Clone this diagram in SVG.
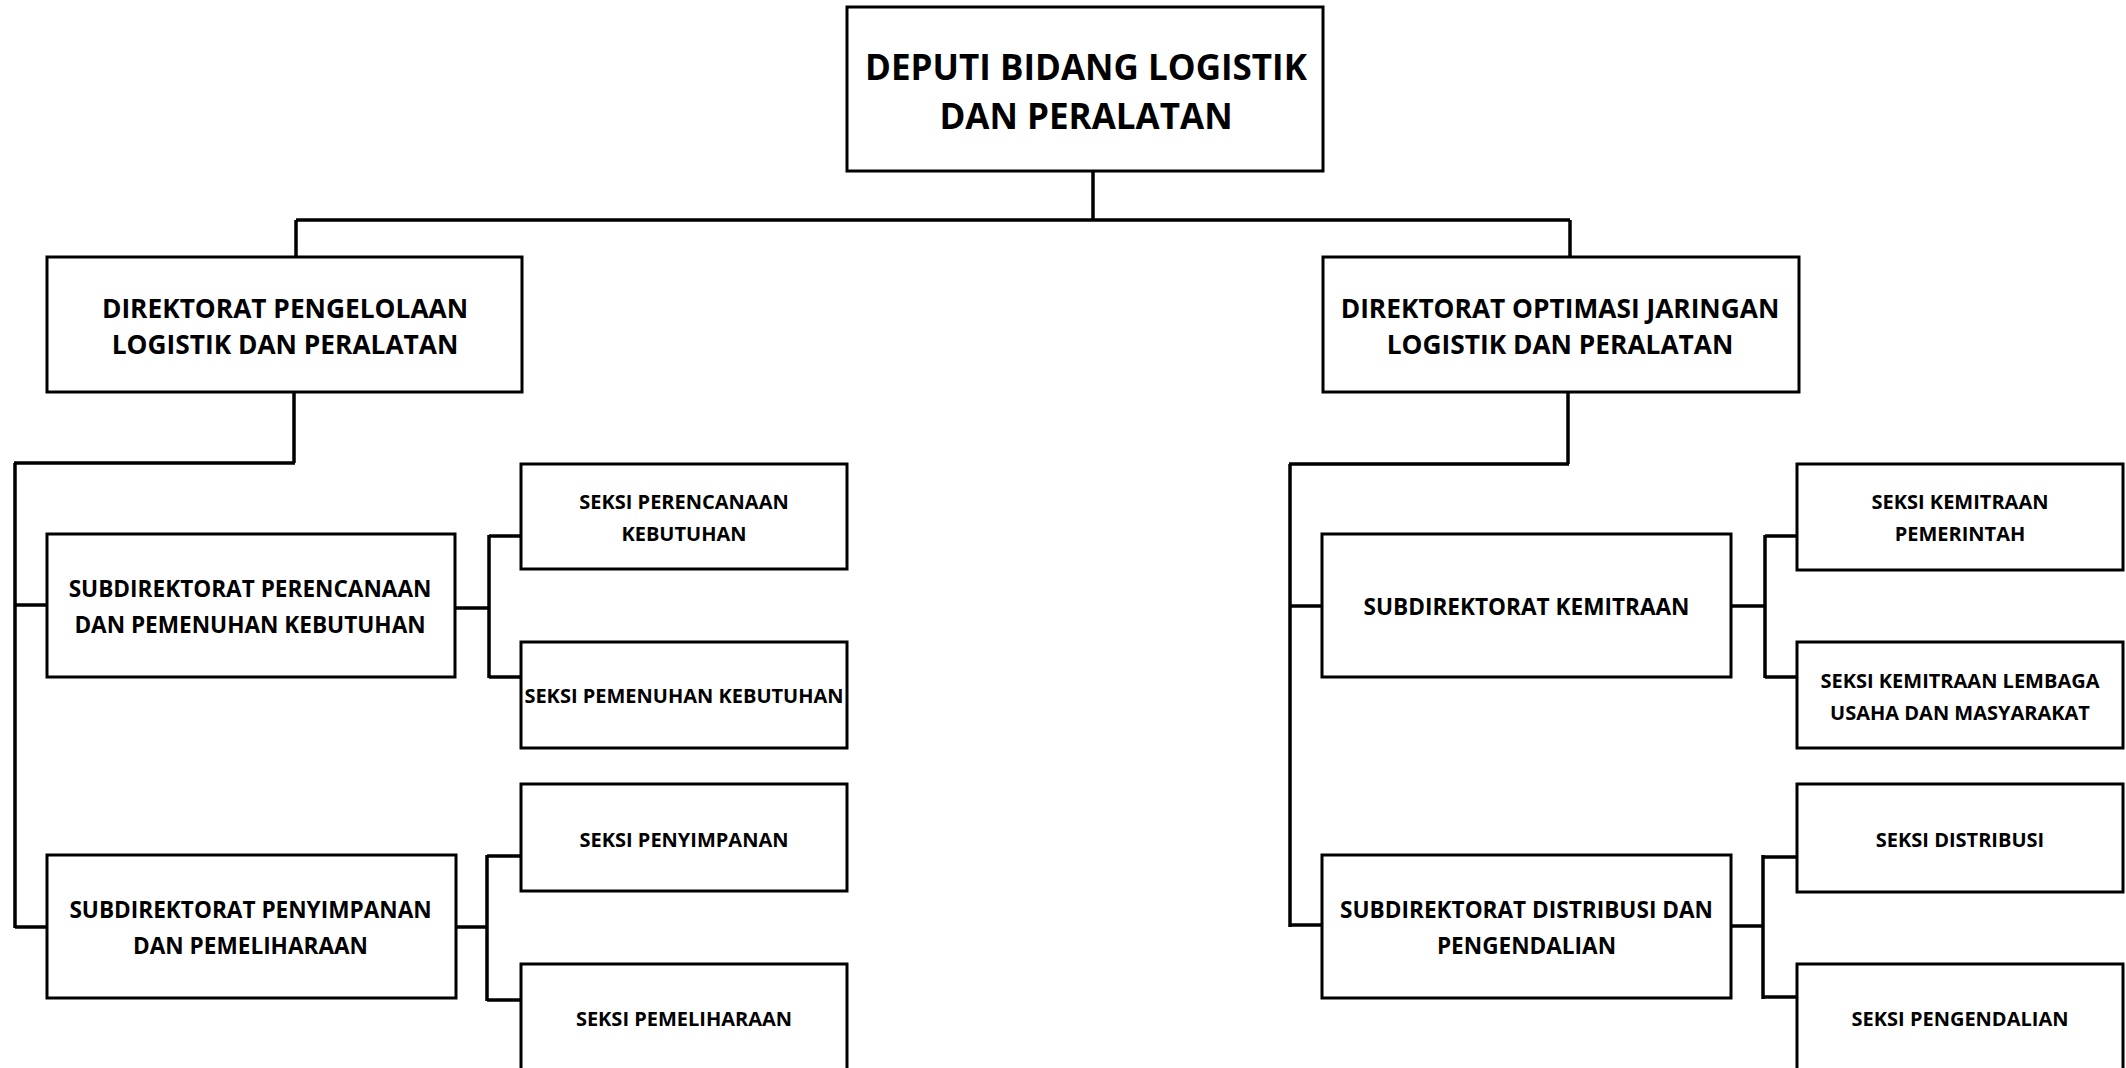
<svg xmlns="http://www.w3.org/2000/svg" width="2126" height="1068" viewBox="0 0 2126 1068">
<style>
rect.box{fill:#fff;stroke:#000;stroke-width:3}
#connectors path{fill:none;stroke:#000;stroke-width:3.5}
text{font-family:"Open Sans","Liberation Sans",sans-serif;font-weight:bold;fill:#000;text-anchor:middle}
.t0{font-size:35px}
.t1{font-size:26.3px}
.t2{font-size:22.6px}
.t3{font-size:20px}
</style>
<rect width="2126" height="1068" fill="#fff"/>
<g id="connectors">
<path d="M1093,171 V220 M296,220 H1570 M296,220 V257 M1570,220 V257"/>
<path d="M294,392 V463 M14,463 H295 M15,463 V928 M15,605 H47 M15,927 H47"/>
<path d="M455,608 H489 M489,535 V678 M489,536 H521 M489,677 H521"/>
<path d="M456,927 H487 M487,855 V1001 M487,856 H521 M487,1000 H521"/>
<path d="M1568,392 V464 M1289,464 H1569 M1290,464 V927 M1290,606 H1322 M1290,925 H1322"/>
<path d="M1731,606 H1765 M1765,535 V678 M1765,536 H1797 M1765,677 H1797"/>
<path d="M1731,926 H1763 M1763,855 V999 M1763,857 H1797 M1763,997 H1797"/>
</g>
<g id="deputi"><rect class="box" x="847" y="7" width="476" height="164"/>
<text class="t0" x="1086" y="80">DEPUTI BIDANG LOGISTIK</text>
<text class="t0" x="1086" y="129">DAN PERALATAN</text></g>
<g id="dir-pengelolaan"><rect class="box" x="47" y="257" width="475" height="135"/>
<text class="t1" x="285" y="318">DIREKTORAT PENGELOLAAN</text>
<text class="t1" x="285" y="354">LOGISTIK DAN PERALATAN</text></g>
<g id="dir-optimasi"><rect class="box" x="1323" y="257" width="476" height="135"/>
<text class="t1" x="1560" y="318">DIREKTORAT OPTIMASI JARINGAN</text>
<text class="t1" x="1560" y="354">LOGISTIK DAN PERALATAN</text></g>
<g id="sub-perencanaan"><rect class="box" x="47" y="534" width="408" height="143"/>
<text class="t2" x="250" y="597">SUBDIREKTORAT PERENCANAAN</text>
<text class="t2" x="250" y="633">DAN PEMENUHAN KEBUTUHAN</text></g>
<g id="sub-penyimpanan"><rect class="box" x="47" y="855" width="409" height="143"/>
<text class="t2" x="250.5" y="918">SUBDIREKTORAT PENYIMPANAN</text>
<text class="t2" x="250.5" y="954">DAN PEMELIHARAAN</text></g>
<g id="sub-kemitraan"><rect class="box" x="1322" y="534" width="409" height="143"/>
<text class="t2" x="1526.5" y="615">SUBDIREKTORAT KEMITRAAN</text></g>
<g id="sub-distribusi"><rect class="box" x="1322" y="855" width="409" height="143"/>
<text class="t2" x="1526.5" y="918">SUBDIREKTORAT DISTRIBUSI DAN</text>
<text class="t2" x="1526.5" y="954">PENGENDALIAN</text></g>
<g id="seksi-perencanaan"><rect class="box" x="521" y="464" width="326" height="105"/>
<text class="t3" x="684" y="509">SEKSI PERENCANAAN</text>
<text class="t3" x="684" y="541">KEBUTUHAN</text></g>
<g id="seksi-pemenuhan"><rect class="box" x="521" y="642" width="326" height="106"/>
<text class="t3" x="684" y="703">SEKSI PEMENUHAN KEBUTUHAN</text></g>
<g id="seksi-penyimpanan"><rect class="box" x="521" y="784" width="326" height="107"/>
<text class="t3" x="684" y="847">SEKSI PENYIMPANAN</text></g>
<g id="seksi-pemeliharaan"><rect class="box" x="521" y="964" width="326" height="107"/>
<text class="t3" x="684" y="1026">SEKSI PEMELIHARAAN</text></g>
<g id="seksi-kemitraan-pemerintah"><rect class="box" x="1797" y="464" width="326" height="106"/>
<text class="t3" x="1960" y="509">SEKSI KEMITRAAN</text>
<text class="t3" x="1960" y="541">PEMERINTAH</text></g>
<g id="seksi-kemitraan-lembaga"><rect class="box" x="1797" y="642" width="326" height="106"/>
<text class="t3" x="1960" y="688">SEKSI KEMITRAAN LEMBAGA</text>
<text class="t3" x="1960" y="720">USAHA DAN MASYARAKAT</text></g>
<g id="seksi-distribusi"><rect class="box" x="1797" y="784" width="326" height="108"/>
<text class="t3" x="1960" y="847">SEKSI DISTRIBUSI</text></g>
<g id="seksi-pengendalian"><rect class="box" x="1797" y="964" width="326" height="107"/>
<text class="t3" x="1960" y="1026">SEKSI PENGENDALIAN</text></g>
</svg>
